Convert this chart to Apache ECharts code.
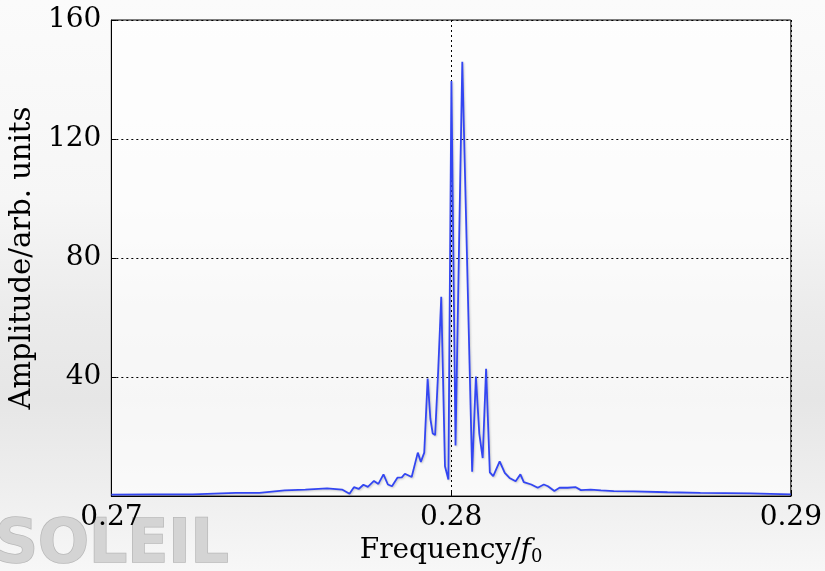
<!DOCTYPE html>
<html>
<head>
<meta charset="utf-8">
<script src="https://cdn.jsdelivr.net/npm/echarts@6/dist/echarts.min.js"></script>
<style>
html,body{margin:0;padding:0;}
body{width:825px;height:571px;overflow:hidden;
background:linear-gradient(to bottom,#fbfbfb 0%,#f6f6f6 35%,#ebebeb 55%,#e6e6e6 70%,#eeeeee 85%,#f7f7f7 100%);}
#chart{width:825px;height:571px;}
</style>
</head>
<body>
<div id="chart"></div>
<script>
// Frequency (in units of f0) and amplitude (arb. units)
const freqs = [0.27000,0.27123,0.27240,0.27366,0.27436,0.27510,0.27571,0.27635,0.27679,0.27701,
  0.27714,0.27728,0.27742,0.27755,0.27773,0.27786,0.27801,0.27814,0.27826,0.27842,
  0.27855,0.27864,0.27884,0.27902,0.27911,0.27921,0.27931,0.27939,0.27946,0.27953,
  0.27962,0.27971,0.27982,0.27992,0.28001,0.28013,0.28033,0.28062,0.28073,0.28083,
  0.28093,0.28103,0.28114,0.28124,0.28143,0.28158,0.28172,0.28190,0.28204,0.28214,
  0.28236,0.28255,0.28273,0.28285,0.28304,0.28319,0.28343,0.28367,0.28382,0.28411,
  0.28441,0.28479,0.28537,0.28637,0.28734,0.28880,0.29000];
const amps = [0.5,0.6,0.6,1.1,1.1,1.9,2.2,2.6,2.2,0.8,
  3.0,2.4,3.8,3.1,5.1,4.1,7.3,3.9,3.3,6.2,
  6.3,7.5,6.4,14.6,11.5,14.6,39.5,26,21,20.5,
  42,67,10,5.6,139.5,17,146,8.2,40.2,21,
  12.8,42.8,8,6.7,11.7,7.8,6.1,5,7.3,4.7,
  3.9,2.8,3.9,3.3,1.7,2.8,2.8,3,2,2.2,
  1.9,1.7,1.6,1.3,1.1,0.9,0.6];
const xTicks = [0.27, 0.28, 0.29];
const yTicks = [40, 80, 120, 160];

const serif = 'DejaVu Serif';
const chart = echarts.init(document.getElementById('chart'), null, {renderer:'canvas'});
chart.setOption({
  backgroundColor: 'transparent',
  animation: false,
  graphic: [{
    type: 'text', left: -6, top: 516, z: 0,
    style: { text: 'SOLEIL', font: 'bold 60px "DejaVu Sans"', fill: '#d4d4d4',
      stroke: '#b8b8b8', lineWidth: 1.5,
      shadowColor: 'rgba(0,0,0,0.25)', shadowBlur: 3, shadowOffsetX: 2, shadowOffsetY: 2 }
  }],
  grid: { left: 108, top: 20, right: 34, bottom: 71, show: true,
    borderColor: '#000', borderWidth: 1, backgroundColor: 'rgba(255,255,255,0.65)' },
  xAxis: {
    type: 'value', min: 0.27, max: 0.29, interval: 0.01,
    name: 'Frequency/{i|f}{s|0}', nameLocation: 'middle', nameGap: 37,
    nameTextStyle: { fontFamily: serif, fontSize: 28, color: '#000',
      rich: { i: { fontFamily: serif, fontStyle: 'italic', fontSize: 28, color: '#000' },
              s: { fontFamily: serif, fontSize: 18, color: '#000', padding: [12,0,0,0] } } },
    axisLine: { show: true, lineStyle: { color: '#000', width: 1 } },
    axisTick: { show: true, inside: true, length: 5, lineStyle: { color: '#000' } },
    axisLabel: { fontFamily: serif, fontSize: 28, color: '#000', margin: 8,
      formatter: v => xTicks.some(t => Math.abs(t - v) < 1e-9) ? v.toFixed(2) : '' },
    splitLine: { show: true, lineStyle: { color: '#000', type: [2,3], width: 1 } }
  },
  yAxis: {
    type: 'value', min: 0, max: 160, interval: 40,
    name: 'Amplitude/arb. units', nameLocation: 'middle', nameGap: 66, nameRotate: 90,
    nameTextStyle: { fontFamily: serif, fontSize: 29, color: '#000' },
    axisLine: { show: true, lineStyle: { color: '#000', width: 1 } },
    axisTick: { show: true, inside: true, length: 5, lineStyle: { color: '#000' } },
    axisLabel: { fontFamily: serif, fontSize: 28, color: '#000', margin: 10,
      formatter: v => yTicks.includes(v) ? String(v) : '' },
    splitLine: { show: true, lineStyle: { color: '#000', type: [2,3], width: 1 } }
  },
  series: [{
    type: 'line', data: freqs.map((f, i) => [f, amps[i]]),
    symbol: 'none', smooth: false,
    lineStyle: { color: '#3346f2', width: 1.8, shadowColor: 'rgba(0,0,0,0.2)', shadowBlur: 2, shadowOffsetX: 1, shadowOffsetY: 1 }
  }]
});
</script>
</body>
</html>
